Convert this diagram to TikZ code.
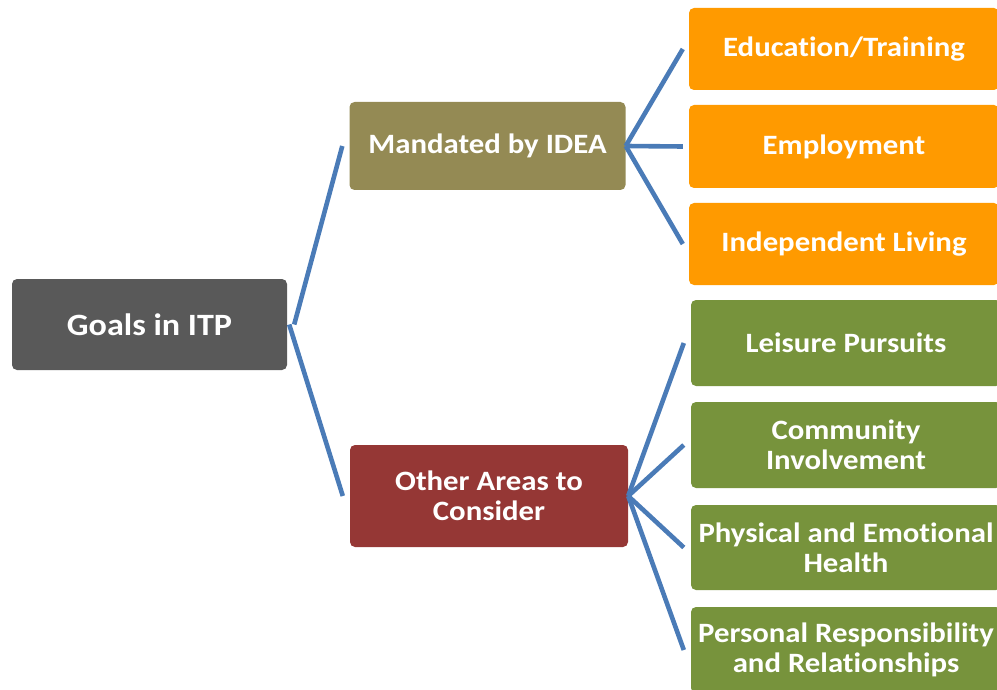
\documentclass[tikz,border=0pt]{standalone}
\usepackage{fontspec}
\setmainfont{Carlito}[FakeStretch=1.1, Ligatures=NoCommon]
\usepackage{xcolor}
\usetikzlibrary{positioning}

\definecolor{rootgray}{HTML}{595959}
\definecolor{idea}{HTML}{948A54}
\definecolor{other}{HTML}{953735}
\definecolor{orng}{HTML}{FF9A00}
\definecolor{leafgreen}{HTML}{77933C}
\definecolor{link}{HTML}{4A7BB7}

\begin{document}
\begin{tikzpicture}[
    x=1pt, y=-1pt,
    every node/.style={font=\bfseries\fontsize{28}{30}\selectfont, text=white},
    bx/.style={rounded corners=5pt, inner sep=0pt, align=center},
    goal/.style={bx, fill=rootgray, minimum width=275pt, minimum height=91pt, font=\bfseries\fontsize{31}{33}\selectfont},
    mid/.style={bx, minimum width=276pt},
    lf/.style={bx, minimum width=310pt},
    a/.style={draw=link, line width=4.6pt}
]
\useasboundingbox (0,0) rectangle (997,690);
\begin{scope}
\clip (0,0) rectangle (997,690);
\node[goal] (goals) at (149.5,324.5) {Goals in ITP};
\node[mid, fill=idea, minimum height=88pt] (mand) at (487.5,146) {Mandated by IDEA};
\node[mid, fill=other, minimum height=102pt, minimum width=278pt] (oth) at (489,496) {Other Areas to\\ Consider};
% required areas
\node[lf, fill=orng, minimum height=82pt] (edu) at (844,49)    {Education/Training};
\node[lf, fill=orng, minimum height=83pt] (emp) at (844,146.5) {Employment};
\node[lf, fill=orng, minimum height=82pt] (ind) at (844,244)   {Independent Living};
% further areas
\node[lf, fill=leafgreen, minimum height=86pt] (leis) at (846,343)   {Leisure Pursuits};
\node[lf, fill=leafgreen, minimum height=86pt] (comm) at (846,445)   {Community\\ Involvement};
\node[lf, fill=leafgreen, minimum height=85pt] (phys) at (846,547.5) {Physical and Emotional\\ Health};
\node[lf, fill=leafgreen, minimum height=86pt] (pers) at (846,650)   {Personal Responsibility\\ and Relationships};
\end{scope}
\draw[a] ([xshift=7pt]goals.east) -- ([xshift=-7pt]mand.west);
\draw[a] ([xshift=2pt]goals.east) -- ([xshift=-7pt]oth.west);
\draw[a] (mand.east) -- ([xshift=-6pt]edu.west);
\draw[a] (mand.east) -- ([xshift=-6pt]emp.west);
\draw[a] (mand.east) -- ([xshift=-6pt]ind.west);
\draw[a] (oth.east) -- ([xshift=-7pt]leis.west);
\draw[a] (oth.east) -- ([xshift=-7pt]comm.west);
\draw[a] (oth.east) -- ([xshift=-7pt]phys.west);
\draw[a] (oth.east) -- ([xshift=-7pt]pers.west);
\end{tikzpicture}
\end{document}
